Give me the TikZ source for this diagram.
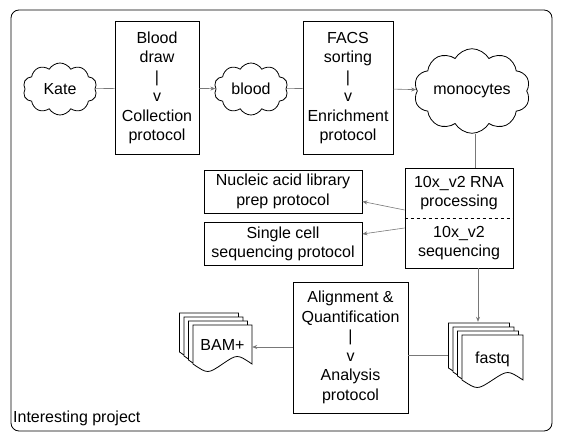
\documentclass[tikz,border=0pt]{standalone}
\usepackage{fontspec}
\setmainfont{Liberation Sans}
\usepackage{tikz}
\usetikzlibrary{arrows.meta,positioning,shapes.symbols,calc}
\definecolor{linkgray}{RGB}{120,120,120}
\tikzset{
  protocol/.style={draw,thick,rectangle,align=center,inner sep=2pt,
    font=\fontsize{16}{19.5}\selectfont},
  sample/.style={cloud,draw,thick,cloud puffs=10,cloud puff arc=120,
    aspect=1.6,inner sep=0pt,font=\fontsize{16}{19.5}\selectfont},
  stack/.style={rectangle,draw=none,inner sep=0pt},
  link/.style={draw=linkgray,line width=0.6pt},
  feed/.style={link,-{Stealth[length=5pt,width=4pt,linkgray]}},
  lifecycle/.style={x=1pt,y=-1pt,every node/.style={font=\fontsize{16}{19.5}\selectfont}}
}
% one sheet of a document stack: left, top, right, bottom
\newcommand{\sheet}[4]{%
  \pgfmathsetmacro{\sl}{#1}\pgfmathsetmacro{\st}{#2}%
  \pgfmathsetmacro{\sr}{#3}\pgfmathsetmacro{\sb}{#4}%
  \pgfmathsetmacro{\sm}{(\sl+\sr)/2}%
  \pgfmathsetmacro{\sqa}{\sr-(\sr-\sl)/4}\pgfmathsetmacro{\sqb}{\sl+(\sr-\sl)/4}%
  \filldraw[thick,fill=white] (\sl,\sb) -- (\sl,\st) -- (\sr,\st) -- (\sr,\sb)
    .. controls (\sqa,\sb-10) .. (\sm,\sb)
    .. controls (\sqb,\sb+10) .. (\sl,\sb) -- cycle;}
\begin{document}
\begin{tikzpicture}[lifecycle]
  \useasboundingbox (0,0) rectangle (562,441);

  % project frame
  \draw[thick,rounded corners=8pt] (11,10) rectangle (552,431);
  \node[anchor=south west,inner sep=0pt] (title) at (13,426) {Interesting project};

  % first row
  \node[sample,minimum width=74pt,minimum height=52pt] (kate) at (60,89) {Kate};
  \node[protocol,minimum width=84pt,minimum height=133pt] (collect) at (157,88)
    {Blood\\draw\\|\\v\\Collection\\protocol};
  \node[sample,minimum width=74pt,minimum height=52pt] (blood) at (251,89) {blood};
  \node[protocol,minimum width=90pt,minimum height=133pt] (enrich) at (348,88)
    {FACS\\sorting\\|\\v\\Enrichment\\protocol};
  \node[sample,minimum width=114pt,minimum height=48pt] (monocytes) at (472,91) {monocytes};

  % library and sequencing
  \node[protocol,minimum width=108pt,minimum height=100pt] (tenx) at (459,218) {};
  \node[align=center] (rna) at (459,193) {10x\_v2 RNA\\processing};
  \node[align=center] (seq) at (459,243) {10x\_v2\\sequencing};
  \draw[thick,dashed] (tenx.west) -- (tenx.east);
  \node[protocol,minimum width=158pt,minimum height=43pt] (nucleic) at (283,191.5)
    {Nucleic acid library\\prep protocol};
  \node[protocol,minimum width=158pt,minimum height=43pt] (single) at (283,244)
    {Single cell\\sequencing protocol};

  % analysis row
  \node[protocol,minimum width=115pt,minimum height=131pt] (analysis) at (350.5,347.5)
    {Alignment \&\\Quantification\\|\\v\\Analysis\\protocol};
  \node[stack,minimum width=76pt,minimum height=66pt] (fastq) at (486,355) {};
  \foreach \i in {3,2,1,0}
    \sheet{462-4.5*\i}{335-4*\i}{523-4.5*\i}{380-4*\i};
  \node (fastqlabel) at (492.5,359) {fastq};
  \node[stack,minimum width=72pt,minimum height=60pt] (bam) at (216,341) {};
  \foreach \i in {3,2,1,0}
    \sheet{193-4.5*\i}{325-4*\i}{252-4.5*\i}{364-4*\i};
  \node (bamlabel) at (222.5,345) {BAM+};

  % connectors
  \path[link] (kate) -- (collect);
  \path[feed] (collect) -- (blood);
  \path[link] (blood) -- (enrich);
  \path[feed] (enrich) -- (monocytes);
  \path[link] ([xshift=16pt]tenx.north |- monocytes.south) -- ([xshift=16pt]tenx.north);
  \path[feed] ([yshift=8pt]tenx.west) -- ([yshift=-10pt]nucleic.east);
  \path[feed] ([yshift=-10pt]tenx.west) -- ([yshift=10pt]single.east);
  \path[feed] ([xshift=19pt]tenx.south) -- ([xshift=19pt]tenx.south |- fastq.north);
  \path[link] (fastq.west) -- (analysis.east |- fastq.west);
  \path[feed] (analysis.west |- 0,347) -- (bam.east |- 0,347);
\end{tikzpicture}
\end{document}
